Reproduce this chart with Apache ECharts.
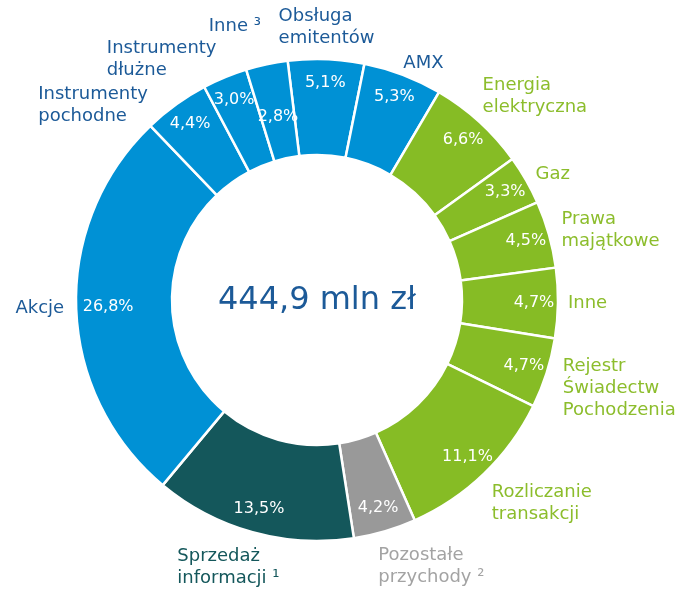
<!DOCTYPE html>
<html>
<head>
<meta charset="utf-8">
<script src="https://cdn.jsdelivr.net/npm/echarts@6/dist/echarts.min.js"></script>
<style>
  html, body { margin: 0; padding: 0; background: #fff; }
  #chart { width: 679px; height: 589px; }
</style>
</head>
<body>
<div id="chart"></div>
<script>
// segments clockwise from the top
const segmentNames = [
  'Obsługa\nemitentów', 'AMX', 'Energia\nelektryczna', 'Gaz', 'Prawa\nmajątkowe', 'Inne',
  'Rejestr\nŚwiadectw\nPochodzenia', 'Rozliczanie\ntransakcji', 'Pozostałe\nprzychody ²',
  'Sprzedaż\ninformacji ¹', 'Akcje', 'Instrumenty\npochodne', 'Instrumenty\ndłużne', 'Inne ³'
]
const segmentShares = [5.1, 5.3, 6.6, 3.3, 4.5, 4.7, 4.7, 11.1, 4.2, 13.5, 26.8, 4.4, 3.0, 2.8]
const segmentGroups = [
  'exchange', 'exchange', 'energy', 'energy', 'energy', 'energy', 'energy', 'energy',
  'other', 'info', 'exchange', 'exchange', 'exchange', 'exchange'
]
const totalLabel = '444,9 mln zł'

const fillColors = { exchange: '#0091d5', energy: '#86bc25', info: '#14575b', other: '#999999' }
const textColors = { exchange: '#1c5a98', energy: '#8cbd2c', info: '#14575b', other: '#a3a3a3' }

const CX = 317, CY = 300, R0 = 145, R1 = 241
const START = 97
const FONT = 'DejaVu Sans'

// outer label placement: [horizontal anchor, vertical anchor, gap from ring]
const outerPlace = [
  [0.5, 1, 10], [0, 1, 1], [0, 1, 5], [0, 0.5, 11], [0, 0.5, 13], [0, 0.5, 10],
  [0, 0.35, 17], [0, 0, 11], [0.1, 0, 14], [0.7, 0, 14], [1, 0.5, 12],
  [1.24, 0.42, 3], [1.09, 1, -4], [1, 1, 28]
]
const pctRadius = segmentShares.map((v, i) => i === 13 ? 187 : (i === 10 ? 209 : 217))

const total = segmentShares.reduce((a, b) => a + b, 0)
function midAngle(i) {
  let before = 0
  for (let k = 0; k < i; k++) before += segmentShares[k]
  return (START - (before + segmentShares[i] / 2) / total * 360) * Math.PI / 180
}

const chart = echarts.init(document.getElementById('chart'))

chart.setOption({
  animation: false,
  graphic: [{
    type: 'text',
    x: CX, y: CY + 1,
    style: {
      text: totalLabel, align: 'center', verticalAlign: 'middle',
      fontFamily: FONT, fontSize: 32, fill: textColors.exchange
    }
  }],
  series: [
    {
      type: 'pie',
      center: [CX, CY],
      radius: [R0, R1],
      startAngle: START,
      clockwise: true,
      avoidLabelOverlap: false,
      silent: true,
      itemStyle: { borderColor: '#fff', borderWidth: 2.5 },
      label: {
        show: true, position: 'outside',
        fontFamily: FONT, fontSize: 18, lineHeight: 22,
        formatter: p => p.name
      },
      labelLine: { show: false },
      labelLayout: function (params) {
        const i = params.dataIndex
        const p = outerPlace[i]
        const a = midAngle(i)
        const r = R1 + p[2]
        const ax = CX + r * Math.cos(a)
        const ay = CY - r * Math.sin(a)
        return {
          x: ax - p[0] * params.labelRect.width,
          y: ay - p[1] * params.labelRect.height,
          align: 'left', verticalAlign: 'top'
        }
      },
      data: segmentNames.map((n, i) => ({
        name: n,
        value: segmentShares[i],
        itemStyle: { color: fillColors[segmentGroups[i]] },
        label: { color: textColors[segmentGroups[i]] }
      }))
    },
    {
      type: 'pie',
      center: [CX, CY],
      radius: [R0, R1],
      startAngle: START,
      clockwise: true,
      silent: true,
      avoidLabelOverlap: false,
      itemStyle: { color: 'transparent', borderWidth: 0 },
      label: {
        show: true, position: 'inside',
        fontFamily: FONT, fontSize: 16, color: '#fff',
        formatter: p => p.value.toFixed(1).replace('.', ',') + '%'
      },
      labelLine: { show: false },
      labelLayout: function (params) {
        const i = params.dataIndex
        const a = midAngle(i)
        return {
          x: CX + pctRadius[i] * Math.cos(a),
          y: CY - pctRadius[i] * Math.sin(a),
          align: 'center', verticalAlign: 'middle'
        }
      },
      data: segmentNames.map((n, i) => ({ name: n, value: segmentShares[i] }))
    }
  ]
})
</script>
</body>
</html>
